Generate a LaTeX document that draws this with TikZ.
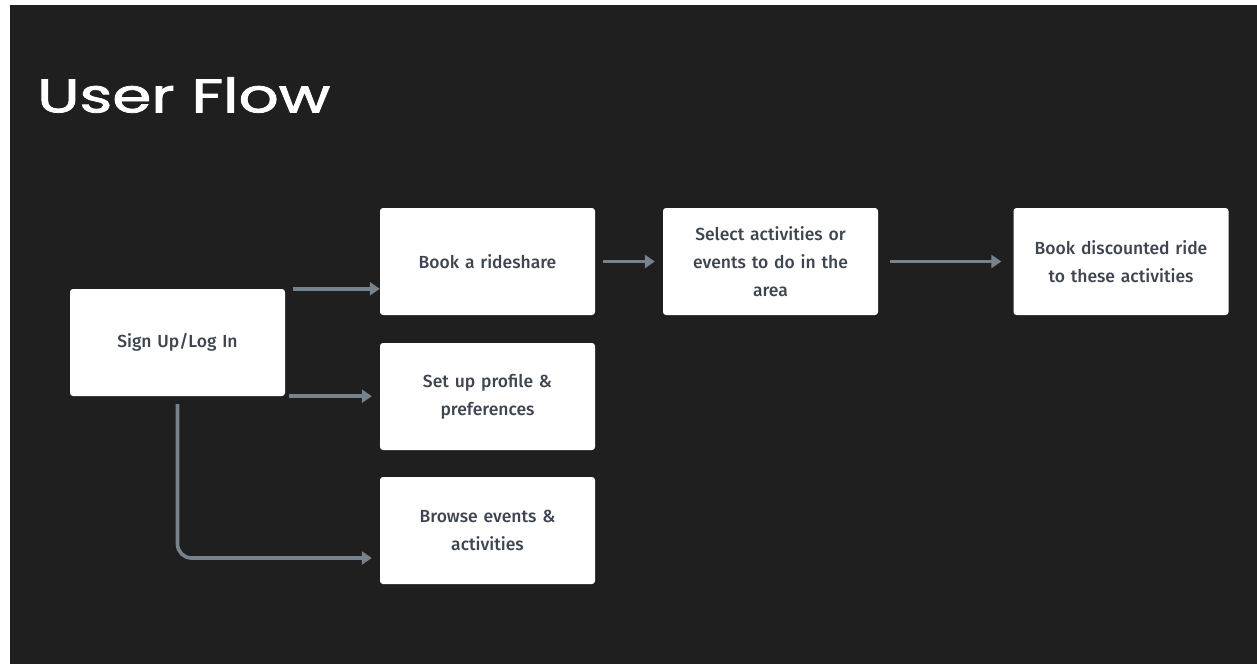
\documentclass[tikz,border=0pt]{standalone}
\usepackage{fontspec}
\usepackage{graphicx}
\setmainfont{Fira Sans}[UprightFont=* Medium]
\newfontfamily\titlefont{Poppins}[FakeBold=1.6]
\usetikzlibrary{arrows.meta}
\definecolor{bg}{HTML}{1F1F1F}
\definecolor{arr}{HTML}{76838D}
\definecolor{txt}{HTML}{3D4550}
\tikzset{
  box/.style={fill=white, rounded corners=3pt, minimum width=215pt, minimum height=107pt,
    text width=205pt, align=center, inner sep=0pt, text=txt,
    font=\fontsize{17.5}{28}\selectfont},
  flow/.style={draw=arr, line width=3.6pt, -{Triangle[length=10pt,width=13pt]}},
}
\begin{document}
\begin{tikzpicture}[x=1pt,y=-1pt]
\useasboundingbox (0,0) rectangle (1257,664);
\fill[white] (0,0) rectangle (1257,664);
\fill[bg] (10,5) rectangle (1257,664);
\node[anchor=south west, text=white, inner sep=0pt] (title) at (37,113) {\resizebox{293pt}{35pt}{\titlefont User Flow}};
\node[box] (sign) at (177.5,342.5) {Sign Up/Log In};
\node[box] (ride) at (487.5,261.5) {Book a rideshare};
\node[box] (prof) at (487.5,396.5) {Set up profile \&\\ preferences};
\node[box] (brow) at (487.5,530.5) {Browse events \&\\ activities};
\node[box] (sel) at (770.5,261.5) {Select activities or\\ events to do in the\\ area};
\node[box] (disc) at (1121,261.5) {Book discounted ride\\ to these activities};
\coordinate (a1s) at ([xshift=8pt]sign.north east);
\coordinate (a2s) at ([xshift=4pt]sign.south east);
\coordinate (a3s) at ([yshift=-8pt]sign.south);
\draw[flow] (a1s) -- (a1s -| ride.west);
\draw[flow] (a2s) -- ([xshift=-8pt]a2s -| prof.west);
\draw[flow, rounded corners=14pt] (a3s) |- ([xshift=-8pt,yshift=-27.5pt]brow.west);
\draw[flow] ([xshift=8pt]ride.east) -- ([xshift=-8pt]sel.west);
\draw[flow] ([xshift=12pt]sel.east) -- ([xshift=-12pt]disc.west);
\end{tikzpicture}
\end{document}
